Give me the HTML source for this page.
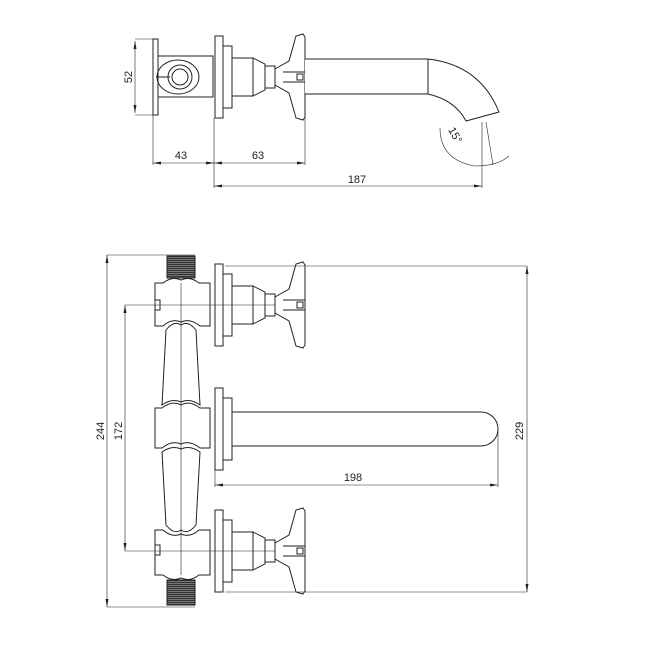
<!DOCTYPE html>
<html><head><meta charset="utf-8"><style>
html,body{margin:0;padding:0;background:#fff;}
svg{display:block}
text{font-family:"Liberation Sans",sans-serif;font-size:11px;fill:#222}
</style></head><body>
<svg width="659" height="659" viewBox="0 0 659 659" xmlns="http://www.w3.org/2000/svg">
<defs>
<marker id="a" markerWidth="8" markerHeight="6" refX="8" refY="3" orient="auto-start-reverse" markerUnits="userSpaceOnUse"><path d="M0,1.5 L8,3 L0,4.5z" fill="#222"/></marker>
<pattern id="th" width="4" height="2" patternUnits="userSpaceOnUse"><rect width="4" height="2" fill="#777"/><rect width="4" height="1" fill="#333"/></pattern>
<g id="valve" fill="#fff" stroke="#222" stroke-width="1">
  <rect x="215" y="-41" width="8" height="82"/>
  <rect x="223" y="-31" width="9" height="62"/>
  <rect x="232" y="-19" width="21" height="38"/>
  <path d="M253,-19 L265,-13 L265,13 L253,19z"/>
  <rect x="265" y="-11" width="10" height="22"/>
  <path d="M275,-8 L289,-16 L296,-41 L303,-43 L305,-40 L305,40 L303,43 L296,41 L289,16 L275,8z"/>
  <line x1="283" y1="-5" x2="305" y2="-5"/><line x1="283" y1="5" x2="305" y2="5"/>
  <rect x="297" y="-3" width="6" height="6"/>
</g>
</defs>
<g fill="none" stroke="#222" stroke-width="1">
<!-- TOP VIEW -->
<rect x="153" y="39" width="5" height="76" fill="#fff"/>
<rect x="158" y="56" width="55" height="41" fill="#fff"/>
<ellipse cx="178" cy="77" rx="21" ry="17"/>
<circle cx="180" cy="77" r="12"/><circle cx="180" cy="77" r="8"/>
<line x1="156" y1="77" x2="170" y2="77"/>
<use href="#valve" transform="translate(0,77)"/>
<path d="M305,59 L428,59 Q480,65 499,112 L466,121 Q455,100 428,94 L305,94" fill="#fff"/>
<line x1="428" y1="59" x2="428" y2="94"/>
<line x1="135" y1="39" x2="153" y2="39" stroke-width=".6"/><line x1="135" y1="115" x2="153" y2="115" stroke-width=".6"/>
<line x1="135" y1="41" x2="135" y2="113" stroke-width=".6" marker-start="url(#a)" marker-end="url(#a)"/>
<line x1="153" y1="115" x2="153" y2="165" stroke-width=".6"/>
<line x1="214" y1="118" x2="214" y2="188" stroke-width=".6"/>
<line x1="305" y1="118" x2="305" y2="165" stroke-width=".6"/>
<line x1="482" y1="122" x2="482" y2="188" stroke-width=".6"/>
<line x1="153" y1="163" x2="214" y2="163" stroke-width=".6" marker-start="url(#a)" marker-end="url(#a)"/>
<line x1="214" y1="163" x2="305" y2="163" stroke-width=".6" marker-start="url(#a)" marker-end="url(#a)"/>
<line x1="214" y1="186" x2="482" y2="186" stroke-width=".6" marker-start="url(#a)" marker-end="url(#a)"/>
<line x1="486" y1="122" x2="493" y2="165" stroke-width=".6"/>
<path d="M440,128 Q440,160 475,166 Q498,166 509,156" stroke-width=".6"/>

<!-- FRONT VIEW -->
<rect x="167" y="256" width="28" height="22" fill="url(#th)"/>
<rect x="167" y="580" width="28" height="25" fill="url(#th)"/>
<path d="M163,283 Q172,276 181,280 Q190,276 199,283 L210,283 L210,326 L200,326 Q190,318 181,322 Q172,318 163,326 L155,326 L155,283z" fill="#fff"/>
<path d="M166,330 Q174,320 181,325 Q188,320 196,330 L200,405 Q190,398 181,402 Q172,398 162,405z" fill="#fff"/>
<path d="M155,408 L162,408 Q172,400 181,405 Q190,400 200,408 L210,408 L210,448 L200,448 Q190,440 181,444 Q172,440 162,448 L155,448z" fill="#fff"/>
<path d="M162,452 Q172,445 181,449 Q190,445 200,452 L196,525 Q188,535 181,530 Q174,535 166,525z" fill="#fff"/>
<path d="M155,530 L163,530 Q172,538 181,534 Q190,538 199,530 L210,530 L210,575 L199,575 Q190,582 181,578 Q172,582 163,575 L155,575z" fill="#fff"/>
<line x1="181" y1="283" x2="181" y2="575" stroke-width=".6"/>
<rect x="155" y="300" width="5" height="10"/><rect x="155" y="545" width="5" height="10"/>
<use href="#valve" transform="translate(0,305)"/>
<use href="#valve" transform="translate(0,551)"/>
<rect x="215" y="388" width="8" height="82" fill="#fff"/>
<rect x="223" y="398" width="9" height="62" fill="#fff"/>
<path d="M232,412 L481,412 A17,17 0 0 1 481,446 L232,446z" fill="#fff"/>
<line x1="107" y1="255" x2="195" y2="255" stroke-width=".6"/><line x1="107" y1="607" x2="195" y2="607" stroke-width=".6"/>
<line x1="107" y1="255" x2="107" y2="607" stroke-width=".6" marker-start="url(#a)" marker-end="url(#a)"/>
<line x1="125" y1="305" x2="275" y2="305" stroke-width=".6"/><line x1="125" y1="551" x2="275" y2="551" stroke-width=".6"/>
<line x1="125" y1="305" x2="125" y2="551" stroke-width=".6" marker-start="url(#a)" marker-end="url(#a)"/>
<line x1="225" y1="266" x2="527" y2="266" stroke-width=".6"/><line x1="225" y1="592" x2="527" y2="592" stroke-width=".6"/>
<line x1="527" y1="266" x2="527" y2="592" stroke-width=".6" marker-start="url(#a)" marker-end="url(#a)"/>
<line x1="215" y1="470" x2="215" y2="487" stroke-width=".6"/>
<line x1="498" y1="430" x2="498" y2="487" stroke-width=".6"/>
<line x1="215" y1="485" x2="498" y2="485" stroke-width=".6" marker-start="url(#a)" marker-end="url(#a)"/>
</g>
<g>
<text x="181" y="159" text-anchor="middle">43</text>
<text x="258" y="159" text-anchor="middle">63</text>
<text x="357" y="183" text-anchor="middle">187</text>
<text transform="translate(132,77) rotate(-90)" text-anchor="middle">52</text>
<text transform="translate(452,137) rotate(60)" text-anchor="middle">15°</text>
<text transform="translate(104,431) rotate(-90)" text-anchor="middle">244</text>
<text transform="translate(122,431) rotate(-90)" text-anchor="middle">172</text>
<text transform="translate(523,431) rotate(-90)" text-anchor="middle">229</text>
<text x="353" y="481" text-anchor="middle">198</text>
</g>
</svg>
</body></html>
